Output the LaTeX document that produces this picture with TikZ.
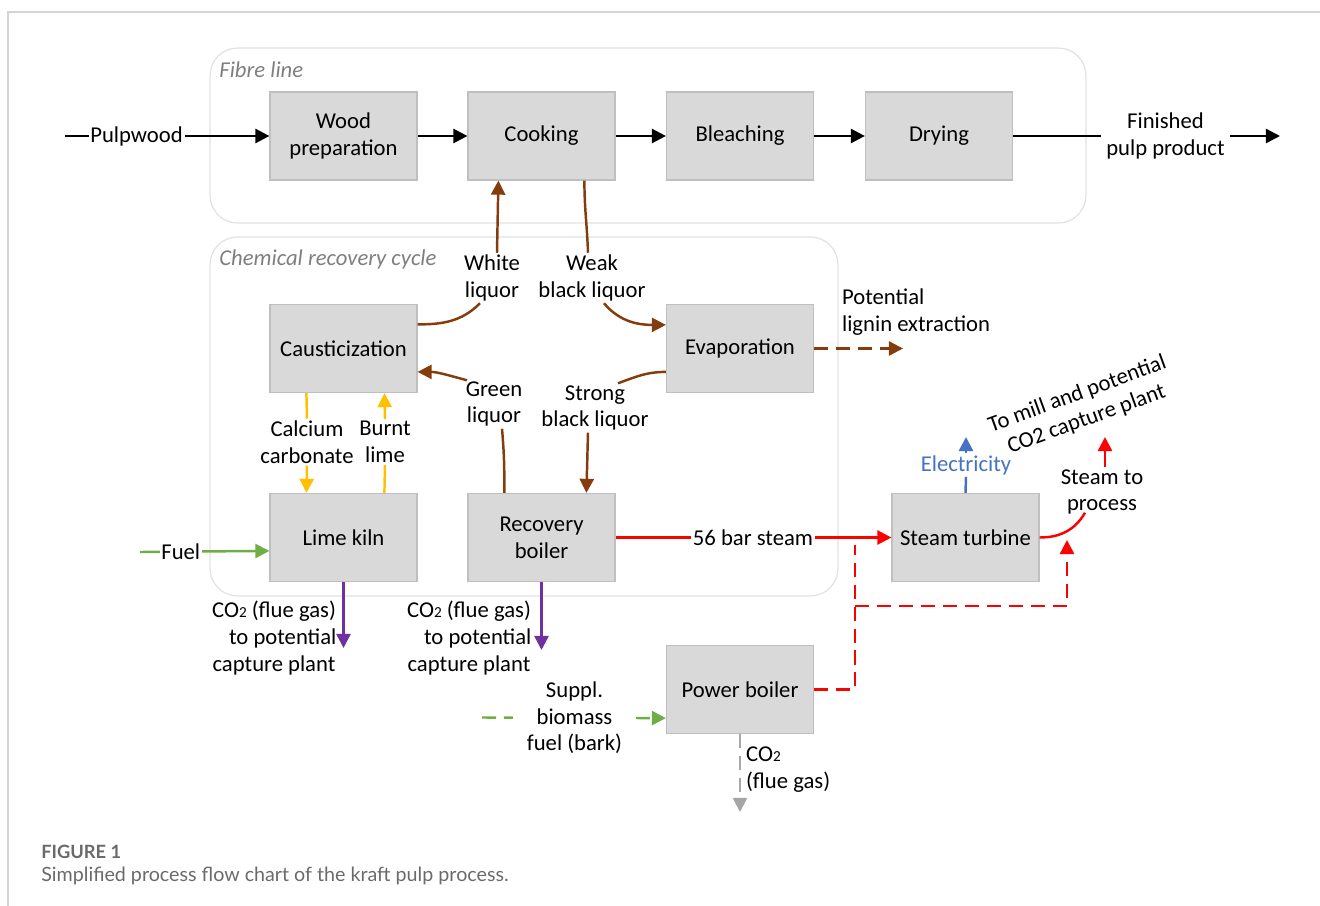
\documentclass[tikz,border=0pt]{standalone}
\usepackage{fontspec}
\setmainfont{Carlito}
\newfontfamily\capfont{Lato}
\usetikzlibrary{arrows.meta,calc}
\definecolor{boxfill}{HTML}{D9D9D9}
\definecolor{boxborder}{HTML}{BFBFBF}
\definecolor{contborder}{HTML}{E2E2E2}
\definecolor{framec}{HTML}{D4D4D4}
\definecolor{brn}{HTML}{843C0C}
\definecolor{yel}{HTML}{FFC000}
\definecolor{grn}{HTML}{70AD47}
\definecolor{pur}{HTML}{7030A0}
\definecolor{redl}{HTML}{FF0000}
\definecolor{blu}{HTML}{4472C4}
\definecolor{gry}{HTML}{A6A6A6}
\definecolor{capc}{HTML}{6A6A6A}
\definecolor{contlbl}{HTML}{7F7F7F}
\newcommand{\fs}{\fontsize{12.9}{15.3}\selectfont}
\newcommand{\cotwo}{CO{\fontsize{8.7}{10}\selectfont 2}}
\begin{document}
\begin{tikzpicture}[x=0.02cm,y=-0.02cm,
  procbox/.style={draw=boxborder, line width=0.7pt, fill=boxfill, minimum width=2.94cm, minimum height=1.76cm, inner sep=0pt, align=center, font=\fs},
  container/.style={draw=contborder, line width=0.7pt, rounded corners=0.55cm, inner sep=0pt},
  lbl/.style={align=center, inner sep=1pt, font=\fs, text=black},
  flow/.style={line width=1.4pt},
  arr/.style={-{Triangle[length=8pt,width=8pt]}},
  dsh/.style={dash pattern=on 8pt off 4.5pt}
]
\useasboundingbox (0,0) rectangle (1320,906);
% frame
\draw[framec, line width=0.8pt] (8,906) -- (8,12) -- (1320,12);
% containers
\node[container, minimum width=17.52cm, minimum height=3.5cm] (fibre) at (648,135.5) {};
\node[container, minimum width=12.56cm, minimum height=7.18cm] (chem) at (524,416.5) {};
\node[anchor=west, font=\fs\itshape, text=contlbl, inner sep=0pt] (fibrelbl) at (219,70) {Fibre line};
\node[anchor=west, font=\fs\itshape, text=contlbl, inner sep=0pt] (chemlbl) at (219,259) {Chemical recovery cycle};
% boxes
\node[procbox] (woodprep) at (343.5,136) {Wood\\preparation};
\node[procbox] (cooking) at (541.5,136) {Cooking};
\node[procbox] (bleaching) at (740,136) {Bleaching};
\node[procbox] (drying) at (939,136) {Drying};
\node[procbox] (caust) at (343.5,348.5) {Causticization};
\node[procbox] (evap) at (740,348.5) {Evaporation};
\node[procbox] (kiln) at (343.5,537.5) {Lime kiln};
\node[procbox] (recovery) at (541.5,537.5) {Recovery\\boiler};
\node[procbox] (turbine) at (965.5,537.5) {Steam turbine};
\node[procbox] (power) at (740,689.5) {Power boiler};
% fibre line flows
\coordinate (pw) at (65,136);
\draw[flow,arr] (pw) -- node[pos=0.35, fill=white, lbl] (pwl) {Pulpwood} (woodprep.west);
\draw[flow,arr] (woodprep) -- (cooking);
\draw[flow,arr] (cooking) -- (bleaching);
\draw[flow,arr] (bleaching) -- (drying);
\coordinate (fpend) at (1280,136);
\draw[flow,arr] (drying.east) -- node[pos=0.571, fill=white, lbl, inner xsep=3pt] (fpl) {Finished\\pulp product} (fpend);
% liquors
\node[lbl] (wl) at (492,278) {White\\liquor};
\draw[brn,flow,arr] ($(wl.north)+(5,0)$) -- ($(cooking.south west)+(31,0)$);
\draw[brn,flow] ($(caust.north east)+(0,20.5)$) to[out=0,in=225] ($(wl.south)+(-12,0)$);
\node[lbl] (wbl) at (592,278) {Weak\\black liquor};
\draw[brn,flow] ($(cooking.south west)+(117,0)$) to[out=-90,in=92] ($(wbl.north)+(-4,0)$);
\draw[brn,flow,arr] ($(wbl.south)+(12,0)$) to[out=-50,in=180] ($(evap.north west)+(0,21)$);
\node[lbl] (sbl) at (595,408) {Strong\\black liquor};
\draw[brn,flow] ($(evap.north west)+(0,68)$) to[out=180,in=20] ($(sbl.north)+(23,0)$);
\draw[brn,flow,arr] ($(sbl.south)+(-7,0)$) -- ($(recovery.north west)+(119,0)$);
\node[lbl] (gl) at (494,404) {Green\\liquor};
\draw[brn,flow] ($(recovery.north west)+(37,0)$) to[out=90,in=-85] ($(gl.south)+(8,0)$);
\draw[brn,flow,arr] ($(gl.north)+(-27,1)$) to[out=165,in=0] ($(caust.north east)+(0,68)$);
% lime cycle
\node[lbl] (cc) at (307,442) {Calcium\\carbonate};
\node[lbl] (bl) at (385,442) {Burnt\\lime};
\draw[yel,flow] ($(caust.south west)+(37,0)$) -- (cc.north);
\draw[yel,flow,arr] (cc.south) -- ($(kiln.north west)+(37,0)$);
\draw[yel,flow] ($(kiln.north west)+(115,0)$) -- (bl.south);
\draw[yel,flow,arr] (bl.north) -- ($(caust.south west)+(115,0)$);
% fuel
\coordinate (fuelstart) at (140,552);
\draw[grn,flow,arr] (fuelstart) -- node[pos=0.315, fill=white, lbl] (fuell) {Fuel} ($(kiln.north west)+(0,58)$);
% CO2 flue gas
\coordinate (co2a) at (343.5,648);
\draw[pur,flow,arr] (kiln.south) -- (co2a);
\node[lbl] (co2al) at (274,638) {\cotwo{} (flue gas)\\\hspace*{0.35cm}to potential\\capture plant};
\coordinate (co2b) at (541.5,650);
\draw[pur,flow,arr] (recovery.south) -- (co2b);
\node[lbl] (co2bl) at (469,638) {\cotwo{} (flue gas)\\\hspace*{0.35cm}to potential\\capture plant};
% steam
\draw[redl,flow,arr] (recovery.east) -- node[pos=0.498, fill=white, lbl] (steaml) {56 bar steam} (turbine.west);
\coordinate (j1) at (855,689.5);
\coordinate (j2) at (855,545);
\coordinate (j3) at (855,606);
\coordinate (j4) at (1067,606);
\coordinate (j5) at (1067,540);
\draw[redl,flow,dsh] (power.east) -- (j1) -- (j2);
\draw[redl,flow,dsh,arr] (j3) -- (j4) -- (j5);
\node[lbl] (stp) at (1102,492) {Steam to\\process};
\draw[redl,flow] (turbine.east) to[out=0,in=-120] ($(stp.south)+(-17,-4)$);
\coordinate (smtip) at (1105,437);
\draw[redl,flow,arr] ($(stp.north)+(3,0)$) -- (smtip);
\node[lbl, rotate=20] (tomill) at (1082,407) {To mill and potential\\CO2 capture plant};
% electricity
\node[lbl, text=blu] (elec) at (966,465) {Electricity};
\draw[blu,flow] (turbine.north) -- (elec.south);
\coordinate (eltip) at (966,437);
\draw[blu,flow,arr] (elec.north) -- (eltip);
% lignin
\coordinate (lig) at (903,348.5);
\draw[brn,flow,dsh,arr] (evap.east) -- (lig);
\node[lbl, anchor=west, align=left] (ligl) at (840,312) {Potential\\lignin extraction};
% biomass
\coordinate (bm) at (482,717.5);
\draw[grn,flow,dsh,arr] (bm) -- node[pos=0.503, fill=white, lbl, inner xsep=8pt] (bml) {Suppl.\\biomass\\fuel (bark)} ($(power.south west)+(0,-16)$);
% power boiler flue gas
\coordinate (co2c) at (740,812);
\draw[gry,flow,dsh,arr] (power.south) -- (co2c);
\node[lbl, anchor=west, align=left] (co2cl) at (744,770) {\cotwo\\(flue gas)};
% caption
\node[anchor=west, inner sep=0pt, font=\capfont\bfseries\fontsize{10.4}{12}\selectfont, text=capc] (figlbl) at (41,852) {FIGURE 1};
\node[anchor=west, inner sep=0pt, font=\capfont\fontsize{11.2}{13}\selectfont, text=capc] (caption) at (41,876) {Simplified process flow chart of the kraft pulp process.};
\end{tikzpicture}
\end{document}
